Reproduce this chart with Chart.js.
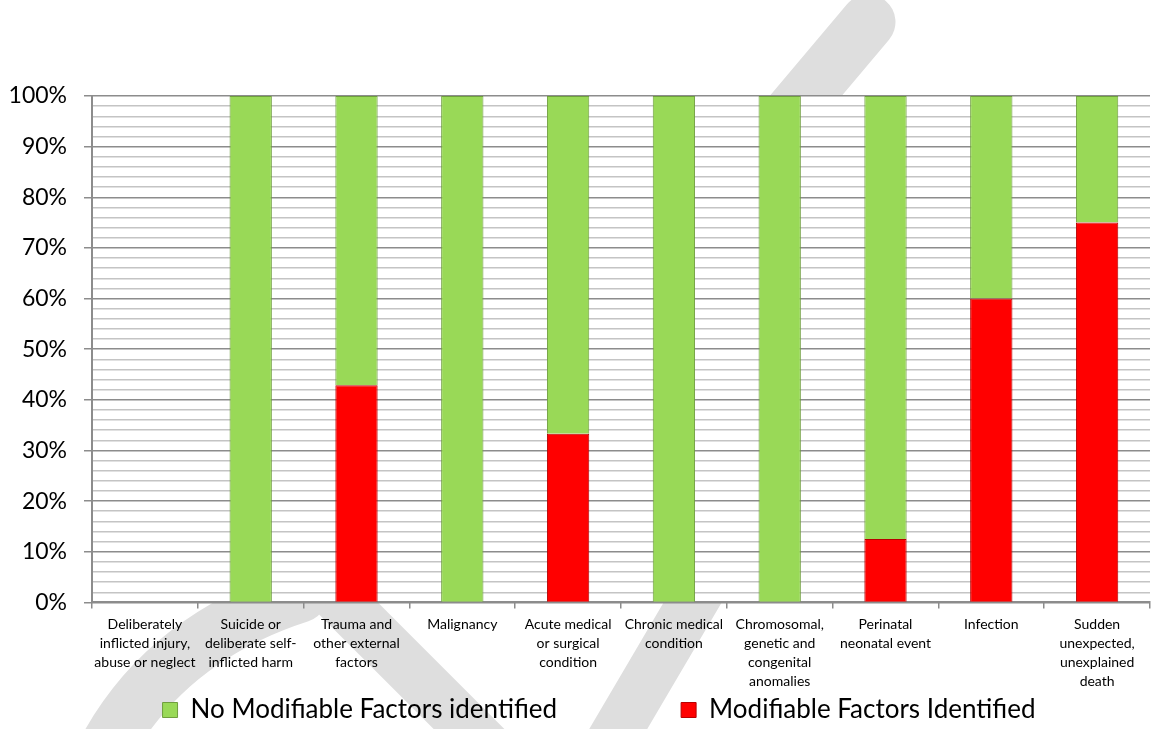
<!DOCTYPE html>
<html>
<head>
<meta charset="utf-8">
<script src="https://cdn.jsdelivr.net/npm/chart.js@4.4.1/dist/chart.umd.min.js"></script>
<style>
    html, body { margin: 0; padding: 0; background: #fff; }
    #wrap { width: 1158px; height: 729px; position: relative; }
</style>
</head>
<body>
<div id="wrap"><canvas id="chart"></canvas></div>
<script>
// Catégories (axe X)
const categories = [
    ['Deliberately', 'inflicted injury,', 'abuse or neglect'],
    ['Suicide or', 'deliberate self-', 'inflicted harm'],
    ['Trauma and', 'other external', 'factors'],
    ['Malignancy'],
    ['Acute medical', 'or surgical', 'condition'],
    ['Chronic medical', 'condition'],
    ['Chromosomal,', 'genetic and', 'congenital', 'anomalies'],
    ['Perinatal', 'neonatal event'],
    ['Infection'],
    ['Sudden', 'unexpected,', 'unexplained', 'death']
];

// Séries (en % du total par catégorie)
const modifiable = [0, 0, 42.9, 0, 33.3, 0, 0, 12.5, 60, 75];
const noModifiable = [0, 100, 57.1, 100, 66.7, 100, 100, 87.5, 40, 25];

const seriesNames = ['Modifiable Factors Identified', 'No Modifiable Factors identified'];

const FONT = 'Lato, "Open Sans", sans-serif';
const LEGEND_Y = 710;

// Filigrane gris + fond blanc de la zone de tracé
const backdrop = {
    id: 'backdrop',
    beforeDraw(chart) {
        const ctx = chart.ctx;
        const area = chart.chartArea;
        ctx.save();
        ctx.strokeStyle = '#dedede';
        ctx.lineCap = 'round';
        ctx.lineWidth = 55;
        ctx.beginPath();
        ctx.moveTo(868, 22);
        ctx.lineTo(600, 340);
        ctx.stroke();
        ctx.lineWidth = 50;
        ctx.beginPath();
        ctx.moveTo(330, 590);
        ctx.lineTo(500, 760);
        ctx.stroke();
        ctx.beginPath();
        ctx.moveTo(700, 590);
        ctx.lineTo(600, 760);
        ctx.stroke();
        ctx.lineWidth = 55;
        ctx.beginPath();
        ctx.moveTo(100, 760);
        ctx.quadraticCurveTo(160, 640, 300, 595);
        ctx.stroke();
        ctx.fillStyle = '#fff';
        ctx.fillRect(area.left, area.top, area.right - area.left, area.bottom - area.top);
        ctx.restore();
    }
};

// Déplace la légende comme dans l'original
const legendShift = {
    id: 'legendShift',
    afterLayout(chart) {
        const lg = chart.legend;
        if (!lg) return;
        const lbl = lg.options.labels;
        lg.left += 20;
        lg.right += 20;
        lg.top = LEGEND_Y - lbl.padding - lbl.font.size / 2;
    }
};

const ctx = document.getElementById('chart').getContext('2d');
new Chart(ctx, {
    type: 'bar',
    data: {
        labels: categories,
        datasets: [{
            label: seriesNames[0],
            data: modifiable,
            backgroundColor: '#ff0000',
            borderColor: '#b80000',
            borderWidth: 1
        }, {
            label: seriesNames[1],
            data: noModifiable,
            backgroundColor: '#99d957',
            borderColor: '#6f9e3e',
            borderWidth: 1
        }]
    },
    options: {
        responsive: true,
        maintainAspectRatio: false,
        animation: false,
        datasets: {
            bar: { barPercentage: 0.8, categoryPercentage: 0.5 }
        },
        layout: { padding: { top: 96, left: 8, right: 8, bottom: 0 } },
        plugins: {
            tooltip: { enabled: false },
            legend: {
                position: 'bottom',
                reverse: true,
                maxHeight: 31,
                labels: {
                    font: { family: FONT, size: 26 },
                    color: '#000',
                    boxWidth: 15,
                    boxHeight: 15,
                    padding: 124
                }
            }
        },
        scales: {
            x: {
                stacked: true,
                grid: {
                    drawOnChartArea: false,
                    color: '#8c8c8c',
                    tickLength: 6,
                    lineWidth: 1.5
                },
                border: { color: '#8c8c8c', width: 2 },
                ticks: {
                    autoSkip: false,
                    maxRotation: 0,
                    padding: 7,
                    color: '#000',
                    font: { family: FONT, size: 14, lineHeight: 1.35 }
                }
            },
            y: {
                stacked: true,
                min: 0,
                max: 100,
                afterFit: s => { s.width = 84; },
                grid: {
                    color: c => (c.tick && c.tick.value % 10 === 0) ? '#8c8c8c' : '#c4c4c4',
                    tickColor: c => (c.tick && c.tick.value % 10 === 0) ? '#8c8c8c' : 'rgba(0,0,0,0)',
                    lineWidth: 1.5,
                    tickLength: 8
                },
                border: { color: '#8c8c8c', width: 2 },
                ticks: {
                    stepSize: 2,
                    autoSkip: false,
                    padding: 17,
                    color: '#000',
                    font: { family: FONT, size: 23 },
                    callback: v => v % 10 === 0 ? v + '%' : ''
                }
            }
        }
    },
    plugins: [backdrop, legendShift]
});
</script>
</body>
</html>
